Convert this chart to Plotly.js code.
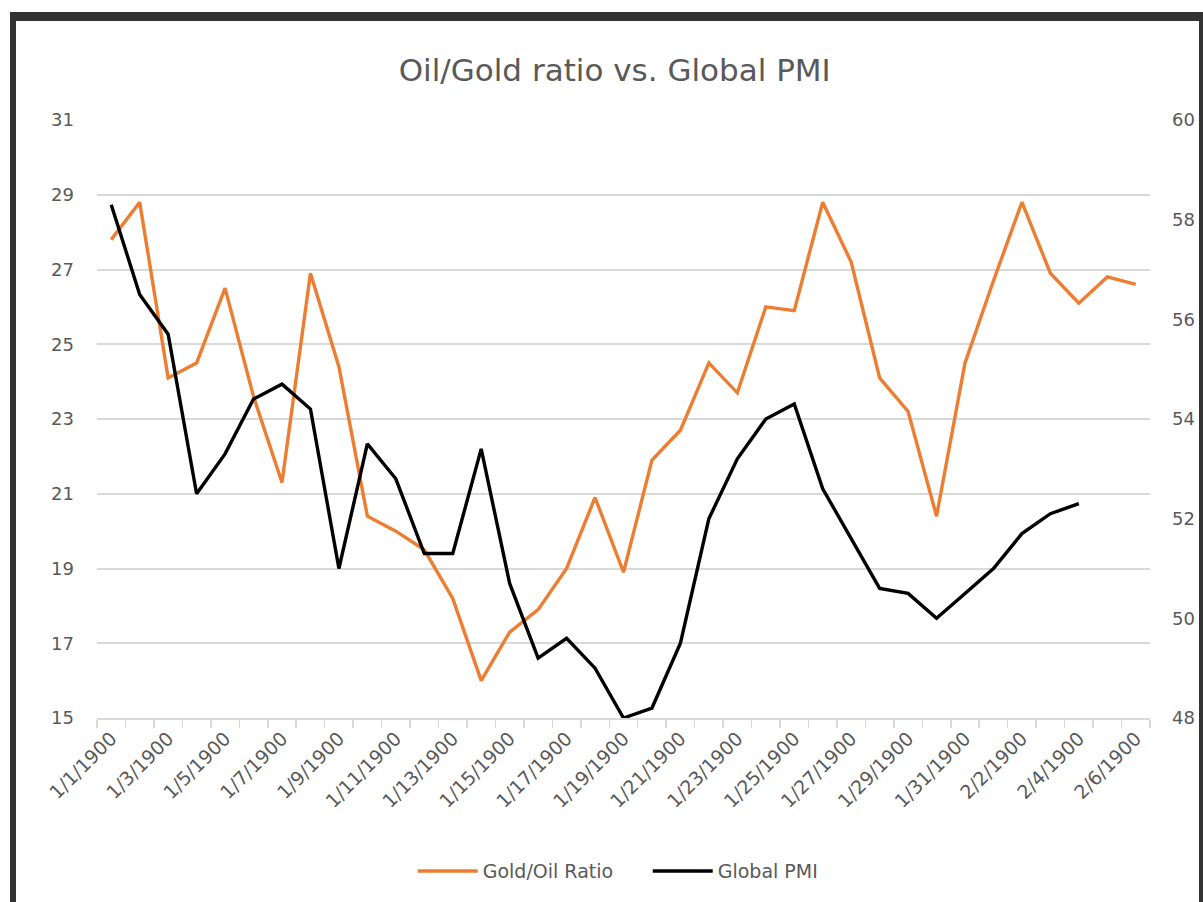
<!DOCTYPE html>
<html>
<head>
<meta charset="utf-8">
<script src="https://cdn.plot.ly/plotly-3.0.1.min.js"></script>
<style>
  html, body { margin: 0; padding: 0; background: #ffffff; }
  #chart { width: 1203px; height: 902px; position: absolute; left: 0; top: 0; }
  .frame { position: absolute; background: #333333; pointer-events: none; }
</style>
</head>
<body>
<div id="chart"></div>
<div class="frame" style="left:10px; top:12px; width:1193px; height:9px;"></div>
<div class="frame" style="left:10px; top:12px; width:6px; height:890px;"></div>
<div class="frame" style="left:1199px; top:12px; width:4px; height:890px;"></div>
<script>
const dates = ["1/1/1900","1/2/1900","1/3/1900","1/4/1900","1/5/1900","1/6/1900","1/7/1900","1/8/1900","1/9/1900","1/10/1900",
  "1/11/1900","1/12/1900","1/13/1900","1/14/1900","1/15/1900","1/16/1900","1/17/1900","1/18/1900","1/19/1900","1/20/1900",
  "1/21/1900","1/22/1900","1/23/1900","1/24/1900","1/25/1900","1/26/1900","1/27/1900","1/28/1900","1/29/1900","1/30/1900",
  "1/31/1900","2/1/1900","2/2/1900","2/3/1900","2/4/1900","2/5/1900","2/6/1900"];

const goldOilRatio = [27.8, 28.8, 24.1, 24.5, 26.5, 23.6, 21.3, 26.9, 24.4, 20.4,
  20.0, 19.5, 18.2, 16.0, 17.3, 17.9, 19.0, 20.9, 18.9, 21.9,
  22.7, 24.5, 23.7, 26.0, 25.9, 28.8, 27.2, 24.1, 23.2, 20.4,
  24.5, 26.7, 28.8, 26.9, 26.1, 26.8, 26.6];

const globalPMI = [58.3, 56.5, 55.7, 52.5, 53.3, 54.4, 54.7, 54.2, 51.0, 53.5,
  52.8, 51.3, 51.3, 53.4, 50.7, 49.2, 49.6, 49.0, 48.0, 48.2,
  49.5, 52.0, 53.2, 54.0, 54.3, 52.6, 51.6, 50.6, 50.5, 50.0,
  50.5, 51.0, 51.7, 52.1, 52.3];

const xIdx = dates.map((d, i) => i);
const labelIdx = xIdx.filter(i => i % 2 === 0);
const labelText = labelIdx.map(i => dates[i]);

const gray = "#595959";
const font = "DejaVu Sans, sans-serif";

const traces = [
  {
    x: xIdx, y: goldOilRatio, name: "Gold/Oil Ratio", type: "scatter", mode: "lines",
    line: { color: "#ED7D31", width: 3.4 }, yaxis: "y"
  },
  {
    x: xIdx.slice(0, globalPMI.length), y: globalPMI, name: "Global PMI", type: "scatter", mode: "lines",
    line: { color: "#000000", width: 3.4 }, yaxis: "y2"
  }
];

const layout = {
  width: 1203, height: 902,
  paper_bgcolor: "#ffffff", plot_bgcolor: "#ffffff",
  margin: { l: 97, r: 53, t: 120, b: 184 },
  font: { family: font, color: gray, size: 18 },
  title: {
    text: "Oil/Gold ratio vs. Global PMI",
    font: { family: font, size: 31, color: gray },
    x: 0.511, xanchor: "center", y: 0.922, yanchor: "middle"
  },
  xaxis: {
    range: [-0.5, 36.5],
    tickmode: "array", tickvals: labelIdx, ticktext: labelText,
    tickangle: -45, ticks: "",
    tickfont: { family: font, size: 19, color: gray },
    showgrid: false, zeroline: false,
    showline: true, linecolor: "#d9d9d9", linewidth: 2,
    minor: { tick0: -0.5, dtick: 1, ticks: "outside", ticklen: 8, tickcolor: "#d9d9d9", tickwidth: 1.5, showgrid: false },
    fixedrange: true
  },
  yaxis: {
    range: [15, 31], dtick: 2, tick0: 15,
    showgrid: true, gridcolor: "#d9d9d9", gridwidth: 2,
    zeroline: false, showline: false, ticks: "",
    ticklabelstandoff: 22,
    tickfont: { family: font, size: 18, color: gray },
    fixedrange: true
  },
  yaxis2: {
    range: [48, 60], dtick: 2, tick0: 48,
    overlaying: "y", side: "right",
    showgrid: false, zeroline: false, showline: false, ticks: "",
    ticklabelstandoff: 21,
    tickfont: { family: font, size: 18, color: gray },
    fixedrange: true
  },
  showlegend: true,
  legend: {
    orientation: "h", x: 0.523, xanchor: "center", y: -0.256, yanchor: "middle",
    itemwidth: 60, entrywidth: 160,
    font: { family: font, size: 19, color: gray },
    bgcolor: "rgba(0,0,0,0)"
  }
};

Plotly.newPlot("chart", traces, layout, { displayModeBar: false, staticPlot: true });
</script>
</body>
</html>
